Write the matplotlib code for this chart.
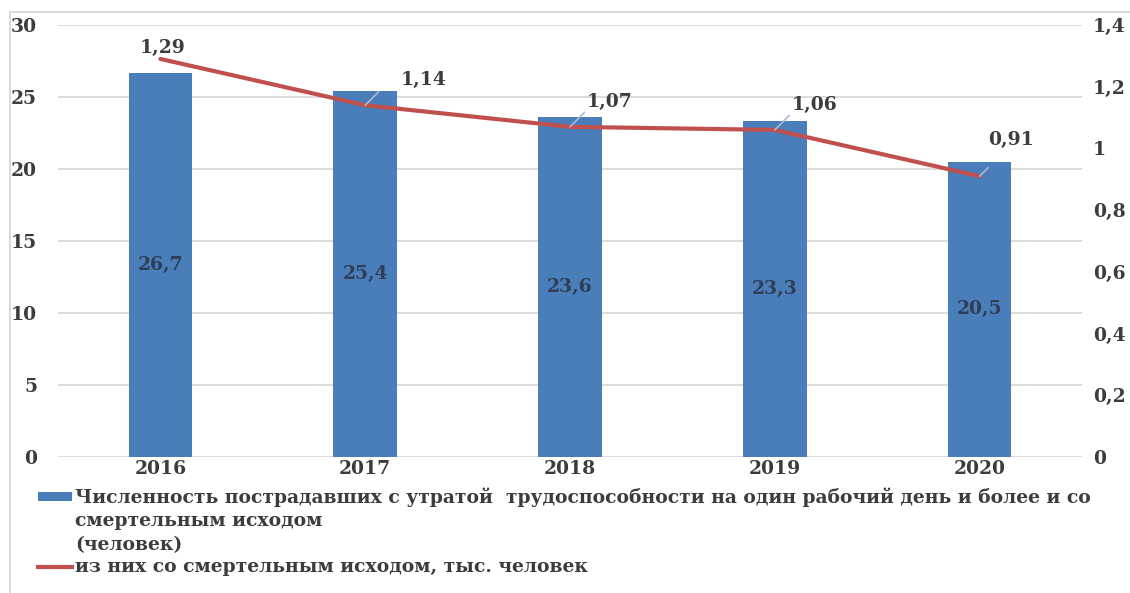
import matplotlib

matplotlib.use("Agg")
import matplotlib.pyplot as plt
from matplotlib.lines import Line2D
from matplotlib.patches import Rectangle

years = ["2016", "2017", "2018", "2019", "2020"]
injured = [26.7, 25.4, 23.6, 23.3, 20.5]
fatal = [1.29, 1.14, 1.07, 1.06, 0.91]

left_ticks = [0, 5, 10, 15, 20, 25, 30]
right_ticks = [0, 0.2, 0.4, 0.6, 0.8, 1.0, 1.2, 1.4]
right_labels = ["0", "0,2", "0,4", "0,6", "0,8", "1", "1,2", "1,4"]

# смещения подписей линии (пиксели)
label_offsets = [(2, 11), (58, 25), (40, 25), (40, 25), (31, 36)]

BAR = "#4A7EBB"
LINE = "#C0504D"
TXT = "#3C3C3C"
FONT = "DejaVu Serif"

W, H = 1130, 593
fig = plt.figure(figsize=(W / 100, H / 100), dpi=100)
fig.patch.set_facecolor("white")

# рамка области диаграммы
fig.add_artist(Rectangle((10 / W, -0.1), 1.2, 1.1 - 12 / H, transform=fig.transFigure,
                         fill=False, edgecolor="#D4D4D4", linewidth=1.2))

ax = fig.add_axes([58 / W, 1 - 457 / H, (1082 - 58) / W, (457 - 25) / H])
ax2 = ax.twinx()

x = list(range(len(years)))
ax.bar(x, injured, width=0.31, color=BAR, zorder=2)
ax.set_xlim(-0.5, len(years) - 0.5)
ax.set_ylim(0, 30)
ax.set_yticks(left_ticks)
ax.set_xticks(x)
ax.set_xticklabels(years)
ax.grid(axis="y", color="#D9D9D9", linewidth=1.3, zorder=0)
ax.set_axisbelow(True)

for a in (ax, ax2):
    for s in a.spines.values():
        s.set_visible(False)

ax.tick_params(axis="y", length=0, pad=15, labelsize=13.5, labelcolor=TXT)
ax.tick_params(axis="x", length=0, pad=2, labelsize=13.5, labelcolor=TXT)
for lab in ax.get_xticklabels() + ax.get_yticklabels():
    lab.set_fontfamily(FONT)
    lab.set_fontweight("bold")

for xi, v in zip(x, injured):
    ax.text(xi, v / 2, f"{v:.1f}".replace(".", ","), ha="center", va="center",
            fontsize=13.5, fontfamily=FONT, fontweight="bold", color="#2E3E55", zorder=3)

ax2.plot(x, fatal, color=LINE, linewidth=3, solid_capstyle="round", zorder=4)
ax2.set_ylim(0, 1.4)
ax2.set_yticks(right_ticks)
ax2.set_yticklabels(right_labels)
ax2.tick_params(axis="y", length=0, pad=8, labelsize=13.5, labelcolor=TXT)
for lab in ax2.get_yticklabels():
    lab.set_fontfamily(FONT)
    lab.set_fontweight("bold")

for xi, v, (dx, dy) in zip(x, fatal, label_offsets):
    arrow = None
    if dx > 10:
        arrow = dict(arrowstyle="-", color="#A9BCD0", linewidth=1.2,
                     shrinkA=16, shrinkB=0, connectionstyle="angle,angleA=0,angleB=45,rad=4")
    ax2.annotate(f"{v:.2f}".replace(".", ","), xy=(xi, v), xytext=(dx, dy),
                 textcoords="offset pixels", ha="center", va="center",
                 fontsize=13.5, fontfamily=FONT, fontweight="bold", color=TXT,
                 arrowprops=arrow, zorder=5)

# легенда
fig.add_artist(Rectangle((38 / W, 1 - 501 / H), 34 / W, 9 / H, transform=fig.transFigure,
                         facecolor=BAR, edgecolor="none"))
fig.add_artist(Line2D([38 / W, 72 / W], [1 - 567 / H, 1 - 567 / H], transform=fig.transFigure,
                      color=LINE, linewidth=3))
legend_lines = [
    (497, "Численность пострадавших с утратой  трудоспособности на один рабочий день и более и со"),
    (521, "смертельным исходом"),
    (545, "(человек)"),
    (567, "из них со смертельным исходом, тыс. человек"),
]
for py, s in legend_lines:
    fig.text(75 / W, 1 - py / H, s, ha="left", va="center", fontsize=13.5,
             fontfamily=FONT, fontweight="bold", color=TXT)

fig.savefig("out.png", dpi=100, facecolor="white")
